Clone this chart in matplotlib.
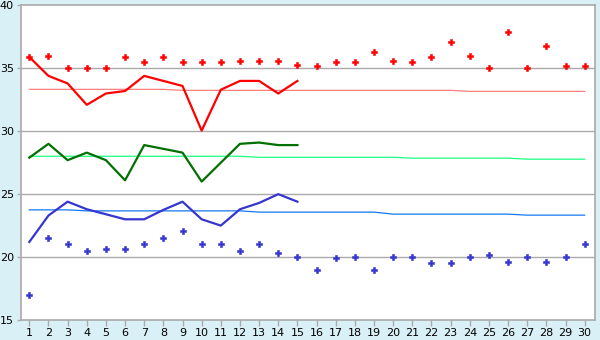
import matplotlib
matplotlib.use("Agg")
import matplotlib.pyplot as plt

# data
days = list(range(1, 31))
days_line = list(range(1, 16))

max_points = [35.9, 36.0, 35.0, 35.0, 35.0, 35.9, 35.5, 35.9, 35.5, 35.5,
              35.5, 35.6, 35.6, 35.6, 35.3, 35.2, 35.5, 35.5, 36.3, 35.6,
              35.5, 35.9, 37.1, 36.0, 35.0, 37.9, 35.0, 36.8, 35.2, 35.2]
min_points = [17.0, 21.5, 21.0, 20.5, 20.6, 20.6, 21.0, 21.5, 22.1, 21.0,
              21.0, 20.5, 21.0, 20.3, 20.0, 19.0, 19.9, 20.0, 19.0, 20.0,
              20.0, 19.5, 19.5, 20.0, 20.2, 19.6, 20.0, 19.6, 20.0, 21.0]

max_line = [35.9, 34.4, 33.8, 32.1, 33.0, 33.2, 34.4, 34.0, 33.6, 30.05,
            33.3, 34.0, 34.0, 33.0, 34.0]
mean_line = [27.9, 29.0, 27.7, 28.3, 27.7, 26.1, 28.9, 28.6, 28.3, 26.0,
             27.5, 29.0, 29.1, 28.9, 28.9]
min_line = [21.2, 23.3, 24.4, 23.8, 23.4, 23.0, 23.0, 23.75, 24.4, 23.0,
            22.5, 23.8, 24.3, 25.0, 24.4]

max_avg = [33.33] * 8 + [33.25] * 15 + [33.17] * 7
mean_avg = [28.01] * 12 + [27.93] * 8 + [27.86] * 6 + [27.78] * 4
min_avg = [23.75] * 3 + [23.67] * 9 + [23.57] * 7 + [23.41] * 7 + [23.33] * 4

bg = "#daf0f7"
grey = "#aaaaaa"

fig = plt.figure(figsize=(6, 3.4), dpi=100, facecolor=bg)
ax = fig.add_axes([0.0345, 0.059, 0.9575, 0.925])
ax.set_facecolor("white")

for y in [20, 25, 30, 35]:
    ax.axhline(y, color=grey, lw=1, zorder=1)

# long-term averages
ax.plot(days, max_avg, color="#ff7f7f", lw=0.9, zorder=2)
ax.plot(days, mean_avg, color="#1aff80", lw=0.9, zorder=2)
ax.plot(days, min_avg, color="#1478f0", lw=0.9, zorder=2)

# this month's lines
ax.plot(days_line, max_line, color="#ff0000", lw=1.6, zorder=3)
ax.plot(days_line, mean_line, color="#007000", lw=1.6, zorder=3)
ax.plot(days_line, min_line, color="#3535d0", lw=1.6, zorder=3)

# record points
ax.plot(days, max_points, "P", color="#ff0000", ms=4.5, mew=0.4, ls="none", zorder=4)
ax.plot(days, min_points, "P", color="#3535d0", ms=4.5, mew=0.4, ls="none", zorder=4)

ax.set_xlim(0.55, 30.55)
ax.set_ylim(15, 40)
ax.set_xticks(days)
ax.set_yticks([15, 20, 25, 30, 35, 40])
for s in ax.spines.values():
    s.set_color(grey)
    s.set_linewidth(1.2)
ax.tick_params(colors=grey, labelcolor="black", labelsize=8, length=4, width=1, pad=2)
ax.tick_params(axis="y", length=3)

plt.savefig("out.png", dpi=100, facecolor=bg)
